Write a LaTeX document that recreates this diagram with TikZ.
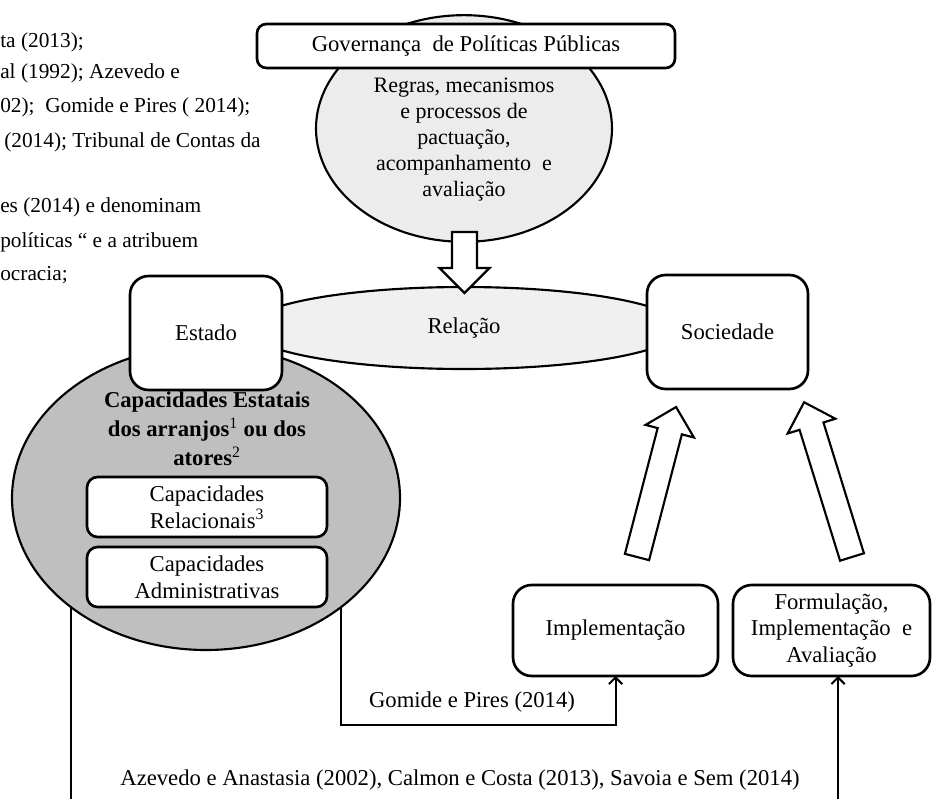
\documentclass[tikz,border=0pt]{standalone}
\usepackage{fontspec}
\setmainfont{Liberation Serif}
\usepackage{tikz}
\usetikzlibrary{arrows.meta,shapes.geometric}

\begin{document}
\begin{tikzpicture}[x=0.75pt,y=-0.75pt,
  every node/.style={font=\fontsize{17}{20}\selectfont},
  caixa/.style={draw,line width=2pt,fill=white,align=center,inner sep=0pt,outer sep=0pt},
  bolha/.style={draw,ellipse,line width=1.6pt,inner sep=0pt,outer sep=0pt},
  citacao/.style={anchor=west,inner sep=0pt,font=\fontsize{16}{19}\selectfont},
  conn/.style={line width=1.5pt},
  pics/fatarrow/.style={code={
    \draw[line width=1.6pt,fill=white,line join=miter]
      (0,-12.5)--(#1-25,-12.5)--(#1-25,-25)--(#1,0)--(#1-25,25)--(#1-25,12.5)--(0,12.5)--cycle;}}]
\useasboundingbox (0,0) rectangle (933,799);

% texto cortado a esquerda
\node[citacao](C1)at(0,42){ta (2013);};
\node[citacao](C2)at(0,73){al (1992); Azevedo e};
\node[citacao](C3)at(0,107){02);\ \ Gomide e Pires ( 2014);};
\node[citacao](C4)at(4,142){(2014); Tribunal de Contas da};
\node[citacao](C5)at(0,207){es (2014) e denominam};
\node[citacao](C6)at(0,242){políticas “ e a atribuem};
\node[citacao](C7)at(0,275){ocracia;};

% governanca
\node[bolha,fill=gray!15,minimum width=222pt,minimum height=170pt](GovEl)at(464,128.5){};
\node[caixa,rounded corners=7pt,minimum width=313.5pt,minimum height=33pt](Gov)at(466,46){Governança\ \ de Políticas Públicas};
\node[align=center,font=\fontsize{16.5}{19.5}\selectfont](Regras)at(464,140){Regras, mecanismos\\e processos de\\pactuação,\\acompanhamento\ \ e\\avaliação};

% relacao
\node[bolha,fill=gray!12,minimum width=325.5pt,minimum height=61.5pt](Rel)at(464,328){\raisebox{-3pt}{Relação}};
\path(464.5,232) pic[rotate=-90]{fatarrow=61};

% capacidades
\node[bolha,fill=gray!50,minimum width=291pt,minimum height=228pt](Capac)at(206,498){};
\node[caixa,rounded corners=14pt,minimum width=114pt,minimum height=85.5pt](Estado)at(206,333){Estado};
\node[caixa,rounded corners=14pt,minimum width=120.75pt,minimum height=85.5pt](Soc)at(727.5,332){Sociedade};
\node[align=center,font=\bfseries\fontsize{17}{21.75}\selectfont](CapTxt)at(207,429){Capacidades Estatais\\dos arranjos\textsuperscript{\mdseries 1} ou dos\\atores\textsuperscript{\mdseries 2}};
\node[caixa,rounded corners=8pt,minimum width=180pt,minimum height=45pt,font=\fontsize{17}{20}\selectfont](Relac)at(207,507){Capacidades\\Relacionais\textsuperscript{3}};
\node[caixa,rounded corners=8pt,minimum width=180pt,minimum height=45pt,font=\fontsize{17}{20}\selectfont](Adm)at(207,577){Capacidades\\Administrativas};

% etapas
\node[caixa,rounded corners=14pt,minimum width=153.75pt,minimum height=68.25pt](Impl)at(615.5,630.5){Implementação};
\node[caixa,rounded corners=14pt,minimum width=147.75pt,minimum height=68.25pt](Form)at(831.5,630.5){Formulação,\\Implementação\ \ e\\Avaliação};
\path(637,557) pic[rotate=75.4]{fatarrow=155};
\path(852,557) pic[rotate=107.2]{fatarrow=162};

% ligacoes
\coordinate(Baixo)at(0,799);
\coordinate(Nivel)at(0,725);
\coordinate(FBase)at(838,799);
\draw[conn](Capac.219)--(Capac.219 |- Baixo);
\draw[conn,-{Straight Barb[length=5pt,width=10pt]}](Capac.321)--(Capac.321 |- Nivel)-|(Impl.south);
\draw[conn,-{Straight Barb[length=5pt,width=10pt]}](FBase)--(FBase |- Form.south);
\node(Gomide)at(472,702){Gomide e Pires (2014)};
\node(Autores)at(460,780){Azevedo e Anastasia (2002), Calmon e Costa (2013), Savoia e Sem (2014)};
\end{tikzpicture}
\end{document}
